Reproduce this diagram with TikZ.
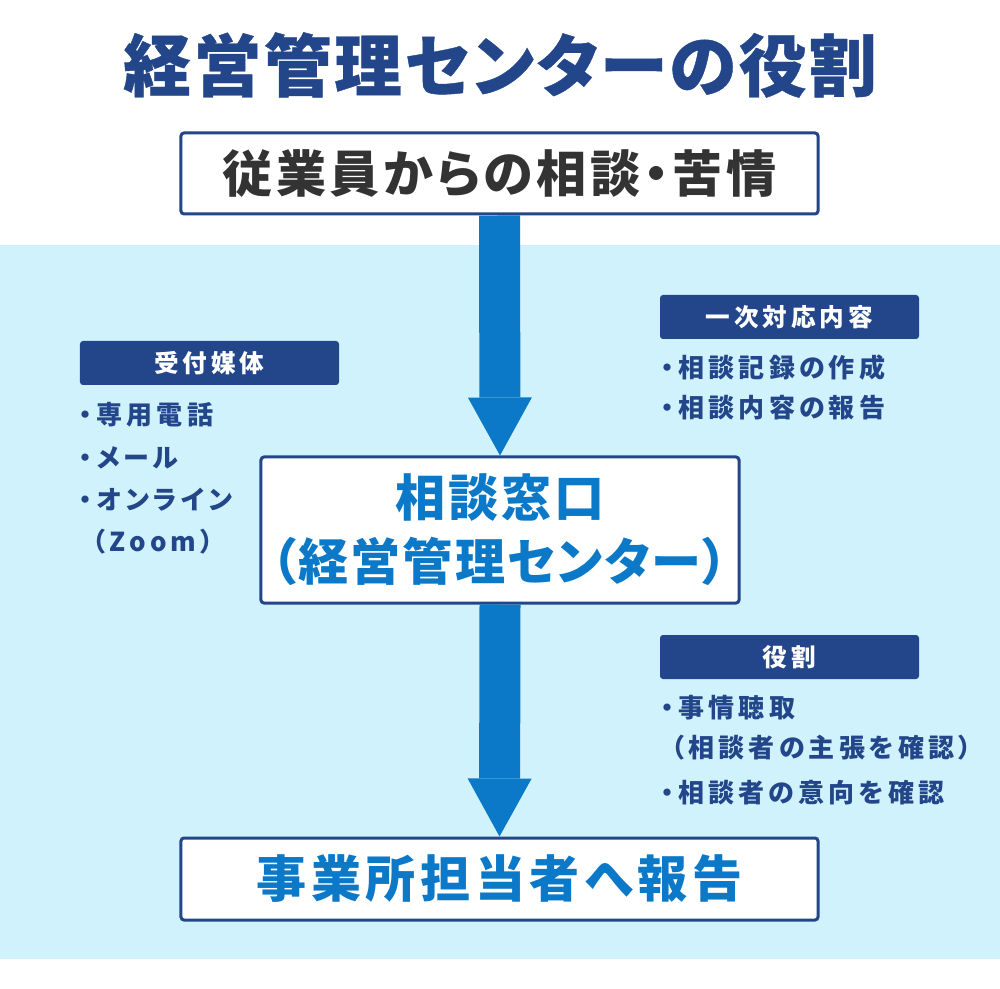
\documentclass[tikz,border=0pt]{standalone}
\usepackage{fontspec}
\setmainfont{Noto Sans CJK JP}[RawFeature=+palt]
\newfontfamily\jpsp{Noto Sans CJK JP}[RawFeature=+palt, LetterSpace=16]
\usetikzlibrary{arrows.meta}
\definecolor{navy}{HTML}{23468A}
\definecolor{skyblue}{HTML}{D0F2FC}
\definecolor{flowblue}{HTML}{0B79C8}
\definecolor{ink}{HTML}{333333}
\tikzstyle{main_box} = [rectangle, draw=navy, line width=0.6mm, rounded corners=0.6mm, fill=white, inner sep=0pt, text centered, font=\bfseries\fontsize{28.5}{36.4}\selectfont]
\tikzstyle{tag_box} = [rectangle, fill=navy, rounded corners=0.6mm, minimum width=51.8mm, minimum height=8.8mm, inner sep=0pt, text=white, font=\jpsp\bfseries\fontsize{14}{16}\selectfont]
\tikzstyle{item} = [anchor=west, inner sep=0pt, text=navy, font=\jpsp\bfseries\fontsize{14.8}{17}\selectfont]
\tikzstyle{flow} = [draw=flowblue, line width=8.2mm, -{Triangle[length=11.6mm, width=12.8mm, line width=0pt]}]

\begin{document}
\begin{tikzpicture}[x=0.2mm, y=-0.2mm]
\useasboundingbox (0,0) rectangle (1000,989);
% background
\fill[white] (0,0) rectangle (1000,989);
\fill[skyblue] (0,245) rectangle (1000,959);

\node (title) [text=navy, font=\bfseries\fontsize{38.5}{44}\selectfont] at (500,65) {\addfontfeature{LetterSpace=4, FakeBold=0.6}経営管理センターの役割};

% flow boxes
\node (req) [main_box, minimum width=127.4mm, minimum height=16.2mm, text=ink] at (499.5,173.5) {\addfontfeature{LetterSpace=7}従業員からの相談・苦情};
\node (desk) [main_box, minimum width=95.6mm, minimum height=29.2mm, text=flowblue, align=center] at (500,530) {{\addfontfeature{LetterSpace=6}相談窓口}\\{\addfontfeature{LetterSpace=4}（経営管理センター）}};
\node (rep) [main_box, minimum width=127.4mm, minimum height=16.4mm, text=flowblue] at (499.5,879) {\addfontfeature{LetterSpace=9}事業所担当者へ報告};

\draw[flow] (req.south) -- (desk.north);
\draw[flow] (desk.south) -- (rep.north);

% left: media
\node (media) [tag_box] at (209.5,363) {受付媒体};
\node (m1) [item] at (79,415) {・専用電話};
\node (m2) [item] at (79,458) {・メール};
\node (m3) [item] at (79,500) {・オンライン};
\node (m4) [item] at (92,542) {（Zoom）};

% right: first response
\node (first) [tag_box] at (789.5,317) {一次対応内容};
\node (f1) [item] at (661,368) {・相談記録の作成};
\node (f2) [item] at (661,408) {・相談内容の報告};

% right: role
\node (role) [tag_box] at (789.5,657) {役割};
\node (r1) [item] at (661,708) {・事情聴取};
\node (r2) [item] at (671,748) {（相談者の主張を確認）};
\node (r3) [item] at (661,793) {・相談者の意向を確認};
\end{tikzpicture}
\end{document}
